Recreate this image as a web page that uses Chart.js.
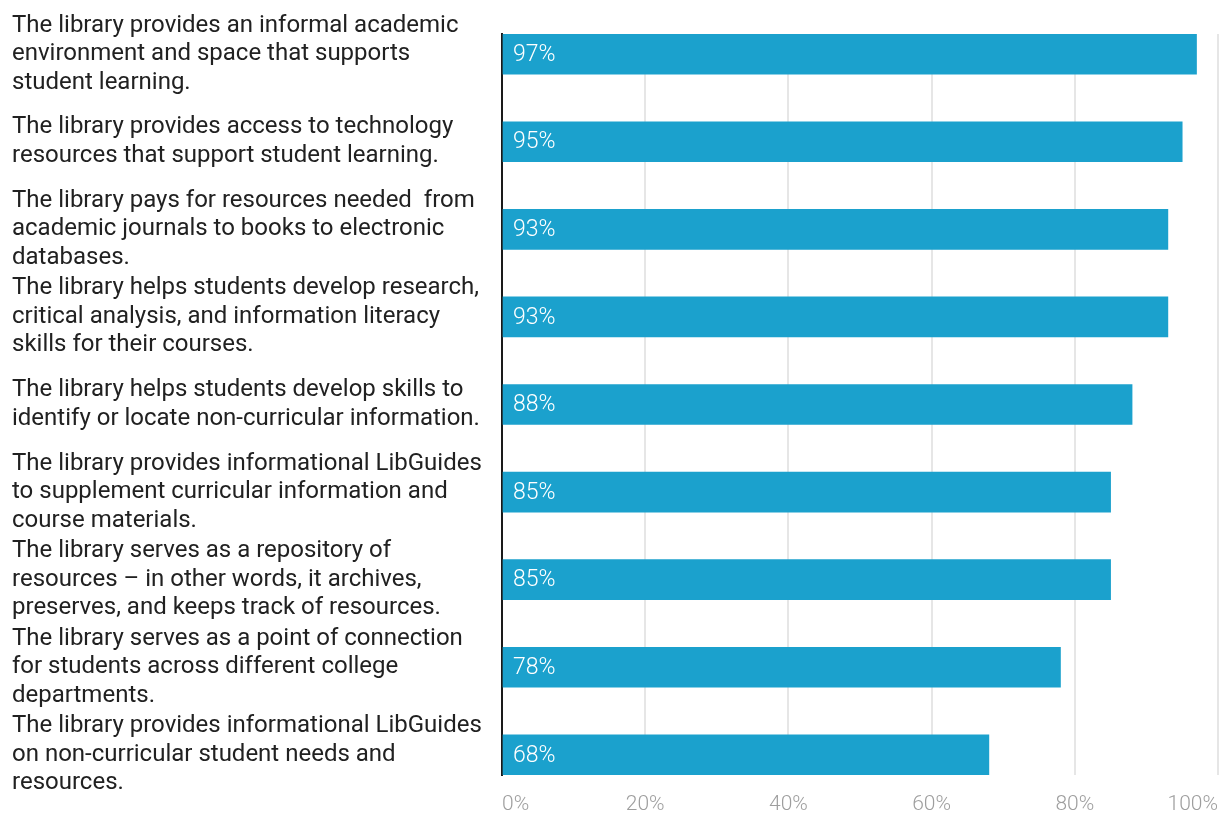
<!DOCTYPE html>
<html>
<head>
<meta charset="utf-8">
<title>Library services survey</title>
<script src="https://cdn.jsdelivr.net/npm/chart.js@4/dist/chart.umd.min.js"></script>
<style>
    html, body { margin: 0; padding: 0; background: #ffffff; }
    #wrap { width: 1222px; height: 814px; }
</style>
</head>
<body>
<div id="wrap"><canvas id="barChart" width="1222" height="814"></canvas></div>
<script>
// Survey statements (pre-wrapped into lines) and agreement percentages
const statements = [
    ['The library provides an informal academic', 'environment and space that supports', 'student learning.'],
    ['The library provides access to technology', 'resources that support student learning.'],
    ['The library pays for resources needed  from', 'academic journals to books to electronic', 'databases.'],
    ['The library helps students develop research,', 'critical analysis, and information literacy', 'skills for their courses.'],
    ['The library helps students develop skills to', 'identify or locate non-curricular information.'],
    ['The library provides informational LibGuides', 'to supplement curricular information and', 'course materials.'],
    ['The library serves as a repository of', 'resources \u2013 in other words, it archives,', 'preserves, and keeps track of resources.'],
    ['The library serves as a point of connection', 'for students across different college', 'departments.'],
    ['The library provides informational LibGuides', 'on non-curricular student needs and', 'resources.']
];
const scores = [97, 95, 93, 93, 88, 85, 85, 78, 68];
const percentTicks = [0, 20, 40, 60, 80, 100];

const BAR_COLOR = '#1ba1cd';

// Write the percentage inside each bar, near its base
const barValueLabels = {
    id: 'barValueLabels',
    afterDatasetsDraw(chart) {
        const ctx = chart.ctx;
        const meta = chart.getDatasetMeta(0);
        ctx.save();
        ctx.font = '300 23px Roboto';
        ctx.fillStyle = '#ffffff';
        ctx.textAlign = 'left';
        ctx.textBaseline = 'middle';
        meta.data.forEach((bar, i) => {
            ctx.fillText(scores[i] + '%', bar.base + 10, bar.y + 1);
        });
        ctx.restore();
    }
};

document.addEventListener('DOMContentLoaded', () => {
    const ctx = document.getElementById('barChart').getContext('2d');

    new Chart(ctx, {
        type: 'bar',
        data: {
            datasets: [{
                data: scores.map((v, i) => ({ x: v, y: i })),
                backgroundColor: BAR_COLOR,
                borderWidth: 0,
                barThickness: 40
            }]
        },
        options: {
            indexAxis: 'y',
            responsive: false,
            animation: false,
            layout: {
                padding: { left: 12, right: 4, top: 34, bottom: 0 }
            },
            plugins: {
                legend: { display: false },
                tooltip: { enabled: false }
            },
            scales: {
                x: {
                    type: 'linear',
                    min: 0,
                    max: 100,
                    afterBuildTicks: (scale) => {
                        scale.ticks = percentTicks.map(v => ({ value: v }));
                    },
                    ticks: {
                        align: 'inner',
                        padding: 17,
                        color: '#9e9e9e',
                        font: { family: 'Roboto', size: 21, weight: '300' },
                        callback: (v) => v + '%'
                    },
                    grid: {
                        drawTicks: false,
                        lineWidth: 2,
                        color: (c) => (c.tick && c.tick.value === 0) ? 'rgba(0,0,0,0)' : '#e6e6e6'
                    },
                    border: { display: false },
                    afterFit: (scale) => {
                        scale.height = 39;
                        scale.paddingLeft = 0;
                        scale.paddingRight = 0;
                    }
                },
                y: {
                    type: 'linear',
                    reverse: true,
                    offset: false,
                    min: -0.23,
                    max: 8.23,
                    ticks: {
                        stepSize: 1,
                        includeBounds: false,
                        autoSkip: false,
                        crossAlign: 'far',
                        color: '#212121',
                        font: { family: 'Roboto', size: 24, lineHeight: 1.19 },
                        callback: (v) => statements[v] || ''
                    },
                    grid: { display: false, offset: false },
                    border: { display: true, color: '#1a1a1a', width: 2 },
                    afterFit: (scale) => {
                        scale.width = 490;
                        scale.paddingTop = 0;
                        scale.paddingBottom = 0;
                    }
                }
            }
        },
        plugins: [barValueLabels]
    });
});
</script>
</body>
</html>
